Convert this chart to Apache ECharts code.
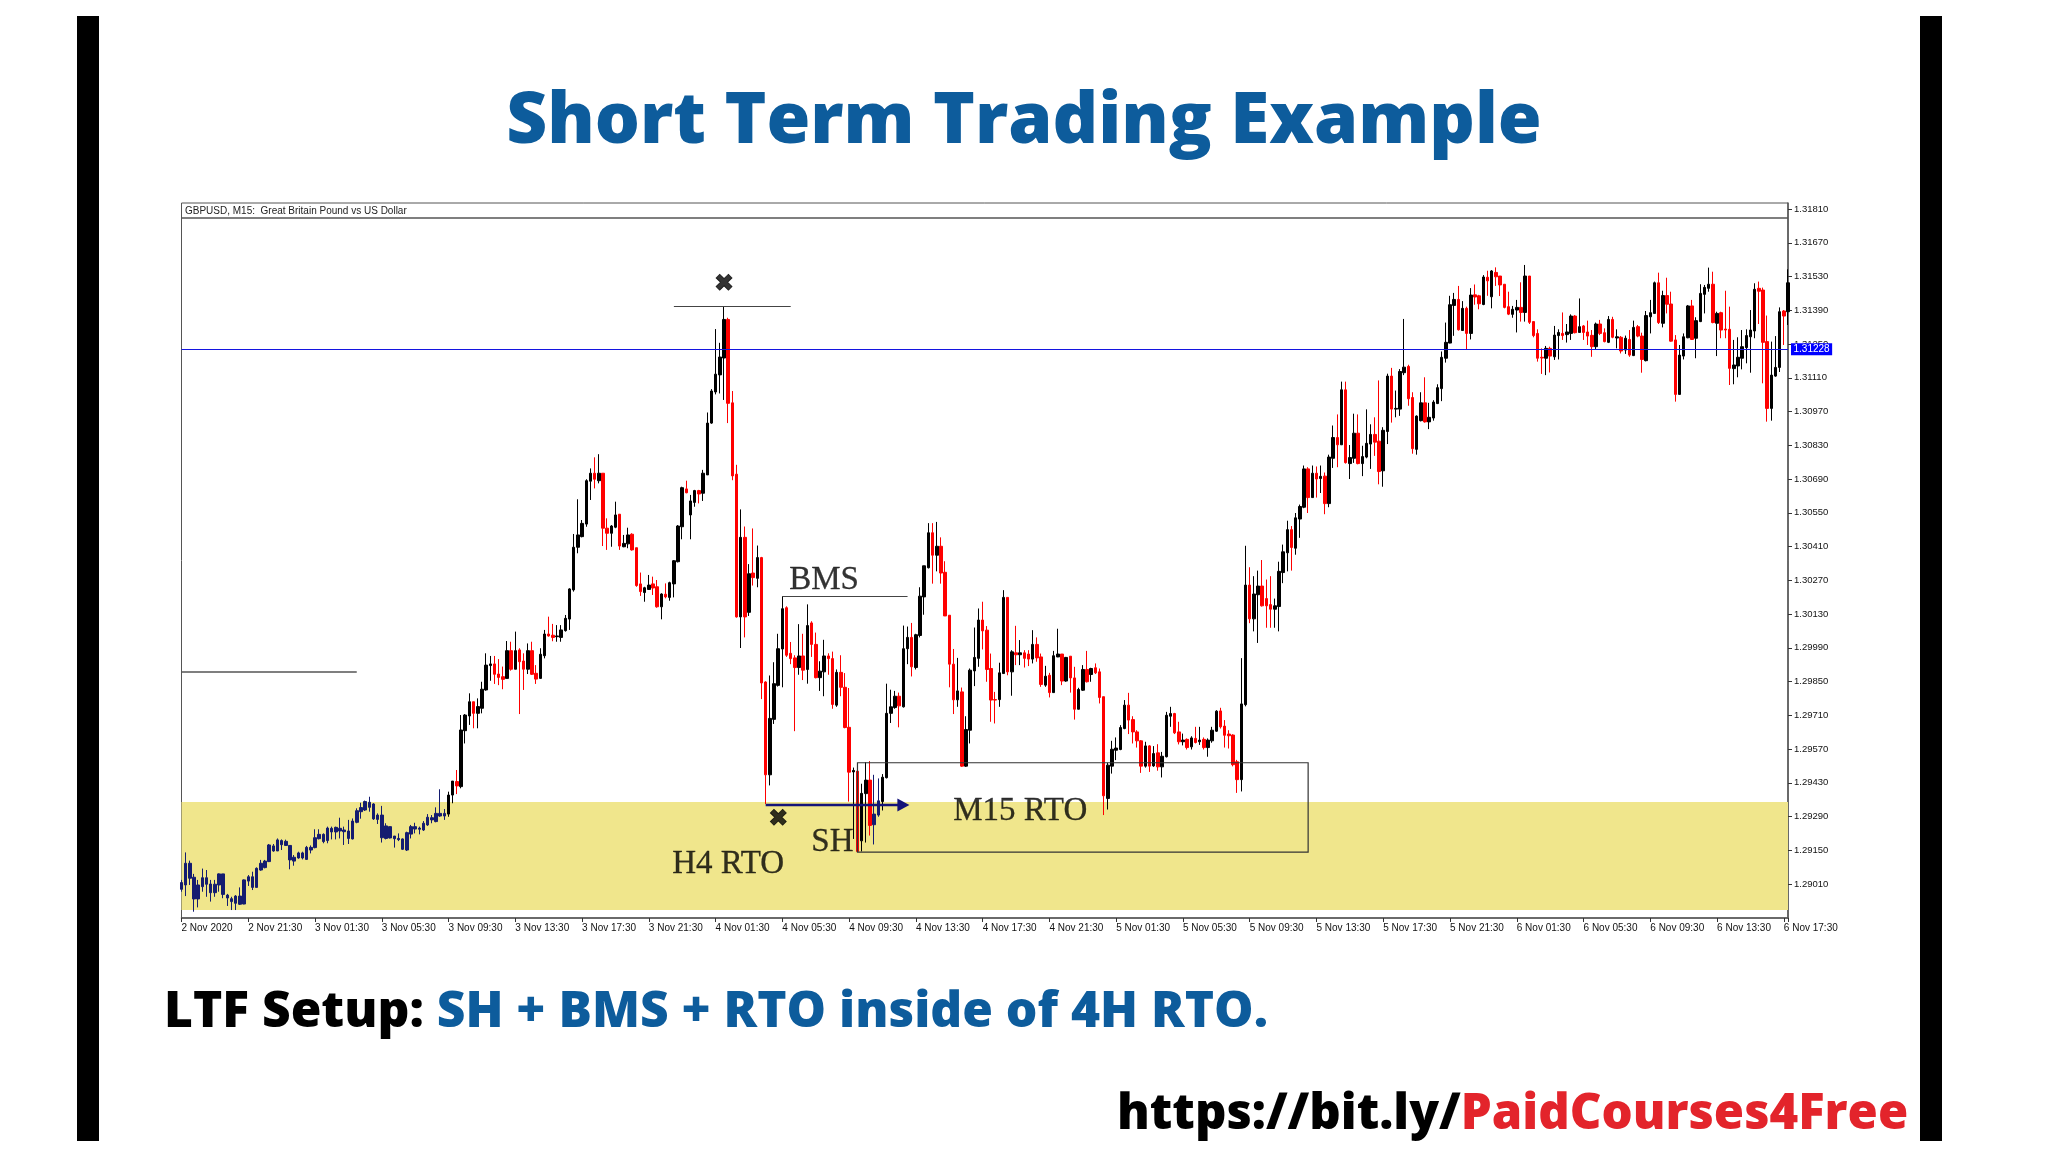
<!DOCTYPE html>
<html><head><meta charset="utf-8">
<script src="https://cdn.jsdelivr.net/npm/echarts@6/dist/echarts.min.js"></script>
<style>html,body{margin:0;padding:0;background:#fff}#c{width:2048px;height:1152px}</style>
</head><body><div id="c"></div>
<script>
const tickLabels=["2 Nov 2020","2 Nov 21:30","3 Nov 01:30","3 Nov 05:30","3 Nov 09:30","3 Nov 13:30","3 Nov 17:30","3 Nov 21:30","4 Nov 01:30","4 Nov 05:30","4 Nov 09:30","4 Nov 13:30","4 Nov 17:30","4 Nov 21:30","5 Nov 01:30","5 Nov 05:30","5 Nov 09:30","5 Nov 13:30","5 Nov 17:30","5 Nov 21:30","6 Nov 01:30","6 Nov 05:30","6 Nov 09:30","6 Nov 13:30","6 Nov 17:30"];
const priceTicks=[1.2901,1.2915,1.2929,1.2943,1.2957,1.2971,1.2985,1.2999,1.3013,1.3027,1.3041,1.3055,1.3069,1.3083,1.3097,1.3111,1.3125,1.3139,1.3153,1.3167,1.3181];
const opens=[
129016,129006,129096,129038,128948,128999,129036,129010,128974,129006,
129052,128964,128949,128930,128960,128927,129022,129040,128996,129068,
129078,129103,129168,129147,129190,129170,129170,129105,129118,129139,
129112,129151,129161,129198,129216,129190,129241,129226,129241,129234,
129230,129197,129266,129310,129317,129349,129342,129278,129296,129199,
129248,129209,129199,129197,129151,129217,129248,129242,129234,129255,
129285,129269,129303,129292,129300,129379,129435,129414,129646,129707,
129766,129718,129739,129815,129916,129923,129881,129870,129863,129978,
129901,129981,129935,129901,129978,129884,129863,129957,130047,130042,
130036,130033,130061,130109,130230,130407,130451,130503,130681,130714,
130683,130714,130486,130465,130490,130544,130409,130421,130461,130405,
130255,130219,130232,130255,130243,130160,130212,130199,130255,130347,
130492,130649,130541,130593,130642,130631,130707,130922,131051,131122,
131192,131352,131006,130710,130118,130448,130137,130300,130278,130364,
129848,129463,129693,129834,129985,130156,129967,129948,129908,129956,
129900,130093,130004,129866,129890,129956,129945,129752,129888,129826,
129660,129475,129478,129189,129385,129441,129256,129296,129352,129451,
129718,129742,129789,129745,129986,130033,129908,130041,130201,130322,
130467,130374,130411,130303,130125,129922,129774,129807,129499,129648,
129894,129946,130105,130063,129904,129775,129775,129883,130199,129890,
129969,129961,129969,129964,129943,130004,129952,129835,129876,129804,
129952,129964,129852,129955,129865,129735,129814,129900,129879,129907,
129890,129787,129365,129499,129565,129568,129655,129752,129692,129641,
129604,129499,129583,129500,129554,129496,129538,129706,129717,129641,
129600,129610,129579,129614,129600,129610,129576,129604,129644,129728,
129665,129632,129628,129517,129443,129754,130250,130110,130210,130246,
130194,130169,130150,130161,130302,130384,130480,130403,130524,130573,
130732,130613,130714,130692,130702,130588,130776,130862,130832,131060,
130754,130776,130880,130754,130781,130835,130875,130847,130724,130887,
131117,130980,130980,131131,131157,131028,130813,130932,131006,130927,
130943,131003,131065,131191,131254,131410,131435,131306,131398,131294,
131454,131450,131414,131527,131446,131547,131532,131498,131405,131373,
131391,131402,131381,131532,131343,131294,131195,131191,131232,131197,
131285,131294,131289,131294,131366,131298,131325,131300,131286,131239,
131333,131297,131257,131352,131275,131278,131225,131269,131202,131322,
131283,131181,131363,131377,131504,131336,131451,131416,131267,131041,
131200,131276,131408,131274,131343,131456,131481,131498,131336,131380,
131312,131311,131148,131159,131191,131235,131280,131304,131481,131474,
131260,130983,131117,131153,131387,131384];
const closes=[
128988,129096,129034,128948,129006,129036,129009,128974,129009,129052,
128967,128952,128937,128960,128926,129027,129040,128996,129075,129096,
129105,129172,129147,129193,129173,129187,129110,129121,129139,129118,
129162,129162,129202,129216,129186,129242,129226,129245,129230,129227,
129199,129271,129314,129327,129352,129328,129280,129296,129202,129251,
129201,129198,129194,129154,129223,129248,129238,129237,129262,129287,
129276,129303,129292,129303,129379,129437,129417,129649,129711,129766,
129718,129746,129818,129918,129923,129880,129867,129859,129978,129901,
129978,129932,129901,129978,129880,129860,129963,130047,130039,130033,
130039,130064,130112,130234,130407,130458,130506,130683,130714,130689,
130714,130486,130465,130495,130541,130412,130423,130458,130396,130248,
130223,130239,130250,130238,130160,130213,130201,130260,130351,130495,
130654,130633,130599,130642,130628,130714,130922,131055,131125,131196,
131352,131004,130703,130118,130448,130118,130297,130281,130364,129844,
129463,129697,129841,129986,130152,129959,129945,129908,129956,129897,
130082,130004,129866,129893,129956,129945,129755,129888,129826,129659,
129474,129481,129145,129386,129441,129253,129300,129355,129453,129718,
129745,129789,129749,129986,130033,129911,130044,130204,130330,130467,
130374,130411,130300,130122,129922,129774,129811,129499,129651,129897,
129950,130105,130060,129900,129773,129773,129886,130199,129890,129973,
129961,129969,129946,129943,130004,129948,129838,129872,129804,129957,
129964,129852,129950,129865,129735,129817,129900,129849,129904,129886,
129784,129376,129503,129569,129574,129659,129752,129690,129641,129604,
129499,129583,129499,129551,129496,129540,129710,129717,129637,129600,
129607,129576,129616,129597,129607,129576,129607,129648,129727,129662,
129627,129625,129505,129443,129757,130250,130110,130213,130246,130164,
130164,130150,130164,130307,130388,130480,130406,130529,130576,130732,
130613,130714,130690,130701,130588,130781,130862,130832,131060,130758,
130779,130880,130754,130783,130838,130875,130843,130721,130892,131117,
130980,130983,131136,131154,131023,130816,130951,131006,130927,130946,
131009,131069,131195,131257,131413,131435,131309,131398,131294,131453,
131445,131417,131528,131512,131553,131529,131495,131402,131374,131394,
131402,131381,131532,131340,131285,131191,131192,131232,131200,131287,
131298,131285,131300,131366,131297,131322,131298,131283,131239,131333,
131294,131260,131352,131278,131280,131221,131274,131204,131319,131283,
131186,131368,131380,131504,131339,131451,131415,131262,131041,131204,
131280,131408,131269,131347,131460,131485,131498,131339,131377,131308,
131308,131149,131163,131195,131239,131285,131308,131477,131469,131257,
130983,131121,131153,131384,131366,131504];
const lows=[
128978,128960,129006,128895,128913,128978,128957,128937,128957,128978,
128951,128919,128902,128902,128923,128926,129002,128985,128996,129065,
129075,129101,129144,129147,129151,129168,129071,129086,129115,129112,
129110,129137,129158,129195,129179,129179,129195,129195,129199,129172,
129176,129195,129262,129281,129313,129310,129276,129259,129182,129195,
129199,129161,129188,129151,129147,129199,129220,129216,129230,129251,
129262,129266,129289,129276,129289,129345,129383,129407,129593,129670,
129656,129656,129718,129812,129853,129840,129835,129818,129862,129895,
129901,129715,129815,129881,129877,129840,129862,129946,130036,130017,
130015,130015,130057,130064,130223,130382,130448,130492,130603,130651,
130672,130412,130396,130409,130486,130396,130407,130403,130393,130243,
130205,130181,130230,130209,130156,130108,130195,130185,130199,130344,
130440,130631,130440,130575,130589,130599,130707,130919,131041,131045,
131018,130922,130685,130115,129989,130033,130122,130248,130241,129777,
129342,129419,129674,129829,129826,129952,129922,129644,129878,129856,
129841,129952,129863,129811,129789,129878,129737,129745,129789,129656,
129352,129197,129145,129145,129182,129211,129174,129289,129315,129448,
129678,129737,129660,129742,129922,129871,129900,130033,130127,130319,
130256,130307,130256,130122,129826,129715,129745,129496,129496,129593,
129831,129911,129983,129849,129683,129676,129745,129883,129876,129791,
129918,129918,129908,129914,129925,129932,129828,129828,129784,129803,
129951,129835,129849,129804,129692,129734,129811,129846,129849,129881,
129759,129296,129319,129468,129524,129565,129652,129632,129593,129576,
129471,129493,129475,129496,129480,129452,129535,129662,129632,129589,
129585,129568,129568,129593,129587,129568,129538,129596,129641,129655,
129576,129572,129498,129388,129394,129747,130092,130058,130010,130161,
130073,130073,130073,130058,130258,130307,130310,130376,130446,130569,
130549,130613,130613,130632,130544,130573,130736,130739,130831,130754,
130690,130757,130751,130702,130776,130732,130786,130668,130658,130835,
130924,130946,130952,131121,130994,130795,130791,130929,130924,130897,
130932,131001,131013,131173,131253,131284,131306,131305,131228,131269,
131413,131394,131411,131450,131398,131491,131449,131398,131370,131359,
131298,131343,131343,131333,131278,131177,131126,131121,131132,131184,
131186,131267,131256,131267,131294,131297,131267,131246,131197,131228,
131287,131257,131254,131274,131232,131211,131209,131197,131200,131278,
131131,131178,131294,131377,131333,131319,131377,131260,131011,131040,
131186,131274,131267,131191,131341,131377,131467,131336,131200,131274,
131274,131080,131083,131112,131145,131170,131131,131274,131333,131087,
130928,130932,131114,131134,131246,131329];
const highs=[
129027,129141,129107,129052,129027,129074,129068,129027,129027,129054,
129052,128969,128957,128964,128996,129029,129047,129061,129079,129110,
129110,129176,129176,129199,129195,129194,129170,129130,129144,129144,
129168,129170,129237,129237,129220,129248,129248,129248,129285,129248,
129276,129282,129324,129347,129356,129372,129345,129303,129334,129262,
129248,129209,129220,129199,129227,129255,129264,129248,129271,129300,
129296,129328,129403,129321,129393,129437,129483,129711,129715,129801,
129766,129780,129849,129967,129956,129956,129943,129912,130018,130015,
130057,129988,129967,130008,130015,129918,129988,130064,130119,130089,
130084,130084,130126,130237,130462,130606,130520,130689,130734,130780,
130793,130714,130527,130499,130596,130544,130458,130488,130465,130405,
130302,130243,130292,130285,130271,130216,130257,130264,130354,130499,
130658,130683,130624,130645,130645,130728,130966,131063,131312,131255,
131406,131359,131055,130749,130564,130493,130337,130485,130414,130367,
129851,129875,129930,130048,130204,130162,130014,129959,130088,130048,
130170,130100,130053,129934,130023,129967,129974,129900,129959,129885,
129823,129493,129485,129426,129515,129520,129463,129448,129466,129841,
129816,129811,129804,130082,130078,130093,130048,130241,130330,130507,
130507,130512,130448,130349,130125,129985,129948,129825,129706,129904,
130074,130153,130181,130080,129966,129807,129928,130229,130199,129980,
130081,130022,129980,129980,130063,130033,129966,129915,129886,129977,
130069,129964,129952,129955,129911,129824,129918,129977,129907,129925,
129904,129787,129513,129604,129618,129669,129773,129803,129706,129648,
129607,129600,129586,129582,129590,129558,129724,129745,129720,129683,
129634,129614,129623,129662,129662,129618,129614,129662,129731,129741,
129690,129648,129631,129525,129947,130413,130324,130287,130310,130354,
130273,130287,130194,130347,130418,130517,130495,130549,130584,130746,
130739,130746,130742,130746,130717,130791,130912,130958,131094,131094,
130831,130961,130958,130828,130979,130917,130946,131099,130905,131127,
131151,131057,131146,131354,131164,131050,130954,131050,131112,131006,
131017,131083,131219,131339,131450,131462,131491,131428,131405,131482,
131497,131454,131536,131554,131557,131568,131532,131498,131467,131408,
131433,131506,131578,131532,131343,131311,131232,131242,131239,131325,
131311,131381,131333,131373,131370,131439,131329,131347,131308,131339,
131350,131315,131366,131363,131311,131283,131285,131308,131347,131329,
131297,131387,131433,131509,131546,131471,131525,131467,131287,131246,
131294,131412,131433,131361,131498,131495,131567,131550,131384,131384,
131471,131405,131267,131278,131308,131311,131391,131502,131509,131484,
131368,131260,131283,131402,131391,131560];
// prices above are in 1/100000 of a dollar (MT5 points)
const POINT=1e-5;
const currentPrice=1.31228;
const zoneTop=1.29350, zoneBottom=1.28902;
const boxTop=1.29513, boxBottom=1.29142, boxFrom=162, boxTo=270;
const swingHighPrice=1.31405, swingHighFrom=118, swingHighTo=146;
const bmsPrice=1.30202, bmsFrom=144, bmsTo=174;
const leftLinePrice=1.29891, leftLineFrom=0, leftLineTo=42;
const h4Price=1.29338, h4From=140, h4To=173;
const annotationText=["BMS","H4 RTO","SH","M15 RTO"];
const annotationIndex=[154,131,156,201];
const annotationPrice=[1.30269,1.29091,1.29183,1.29311];
const crossIndex=[130,143];
const crossPrice=[1.31496,1.29275];

const BLACK='#000',RED='#f00',NAVY='#141c70',PINK='#e8256a';
const categories=opens.map((_,i)=>i%16===0?tickLabels[i/16]:'');
const candleData=opens.map((o,i)=>{
  const c=closes[i],top=Math.max(o,c)*POINT;
  const inZone=top<=zoneTop+0.0001;
  const item={value:[o*POINT,c*POINT,lows[i]*POINT,highs[i]*POINT]};
  if(inZone)item.itemStyle={color:NAVY,borderColor:NAVY,color0:PINK,borderColor0:PINK};
  return item;
});
const GL=181.5,GT=203,GW=1606.5,GH=715;
const sans='"Open Sans"';
const chart=echarts.init(document.getElementById('c'),null,{renderer:'canvas'});
chart.setOption({
  animation:false,backgroundColor:'#fff',
  title:[
    {text:'Short Term Trading Example',left:'center',top:87.5,padding:0,textStyle:{fontFamily:sans,fontWeight:800,fontSize:71,color:'#0d5c9c'}},
    {text:'GBPUSD, M15:  Great Britain Pound vs US Dollar',left:185,top:206.5,padding:0,textStyle:{fontFamily:'"Liberation Sans"',fontWeight:'normal',fontSize:10,color:'#222'}},
    {text:'{a|LTF Setup: }{b|SH + BMS + RTO inside of 4H RTO.}',left:164,top:988,padding:0,textStyle:{rich:{a:{fontFamily:sans,fontWeight:800,fontSize:49.7,color:'#000'},b:{fontFamily:sans,fontWeight:800,fontSize:49.7,color:'#0d5c9c'}}}},
    {text:'{a|https://bit.ly/}{b|PaidCourses4Free}',left:1117,top:1091,padding:0,textStyle:{rich:{a:{fontFamily:sans,fontWeight:800,fontSize:49,color:'#000'},b:{fontFamily:sans,fontWeight:800,fontSize:49,color:'#e3242b'}}}}
  ],
  graphic:[
    {type:'rect',shape:{x:77,y:16,width:22,height:1125},style:{fill:'#000'},silent:true},
    {type:'rect',shape:{x:1920,y:16,width:22,height:1125},style:{fill:'#000'},silent:true},
    {type:'line',shape:{x1:GL,y1:218,x2:GL+GW,y2:218},style:{stroke:'#555',lineWidth:1.5},silent:true}
  ],
  grid:{left:GL,top:GT,width:GW,height:GH,show:true,borderColor:'#555',borderWidth:1,backgroundColor:'transparent'},
  xAxis:{type:'category',data:categories,boundaryGap:false,
    axisLine:{lineStyle:{color:'#555',width:1.5}},
    axisTick:{interval:15,length:4,lineStyle:{color:'#333'}},
    axisLabel:{interval:15,align:'left',margin:5,fontFamily:'"Liberation Sans"',fontSize:10,color:'#111',hideOverlap:false,showMinLabel:true,showMaxLabel:true},
    splitLine:{show:false}},
  yAxis:{type:'value',position:'right',min:1.28869,max:1.31835,scale:true,
    axisLine:{show:true,lineStyle:{color:'#555',width:1.5}},
    axisTick:{show:true,length:4,customValues:priceTicks,lineStyle:{color:'#333'}},
    axisLabel:{customValues:priceTicks,margin:6,fontFamily:'"Liberation Sans"',fontSize:9.5,color:'#111',formatter:v=>v.toFixed(5)},
    splitLine:{show:false}},
  series:[
    {type:'candlestick',name:'GBPUSD',data:candleData,barWidth:3,z:2,silent:true,clip:true,
      itemStyle:{color:BLACK,color0:RED,borderColor:BLACK,borderColor0:RED,borderWidth:1},
      markArea:{silent:true,z:1,label:{show:false},itemStyle:{color:'#f0e68c'},
        data:[[{coord:[0,zoneTop]},{coord:[categories.length-1,zoneBottom]}]]}},
    {type:'line',data:[],z:6,silent:true,
      markArea:{silent:true,z:6,label:{show:false},itemStyle:{color:'rgba(0,0,0,0)',borderColor:'#333',borderWidth:1.2},
        data:[[{coord:[boxFrom,boxTop]},{coord:[boxTo,boxBottom]}]]},
      markLine:{silent:true,z:10,symbol:['none','none'],label:{show:false},animation:false,
        data:[
          [{coord:[0,currentPrice],lineStyle:{color:'#1414e0',width:1.2,type:'solid'},
            label:{show:true,position:'end',distance:3,formatter:currentPrice.toFixed(5),backgroundColor:'#0000ff',color:'#fff',padding:[1,2.5],fontFamily:'"Liberation Sans"',fontSize:10}},
           {coord:[categories.length-1,currentPrice]}],
          [{coord:[leftLineFrom,leftLinePrice],lineStyle:{color:'#555',width:1.5,type:'solid'}},{coord:[leftLineTo,leftLinePrice]}],
          [{coord:[swingHighFrom,swingHighPrice],lineStyle:{color:'#444',width:1.2,type:'solid'}},{coord:[swingHighTo,swingHighPrice]}],
          [{coord:[bmsFrom,bmsPrice],lineStyle:{color:'#444',width:1.2,type:'solid'}},{coord:[bmsTo,bmsPrice]}],
          [{coord:[h4From,h4Price],symbol:'none',lineStyle:{color:'#14147a',width:2.4,type:'solid'}},{coord:[h4To,h4Price],symbol:'triangle',symbolSize:[13,12],symbolRotate:-90}]
        ]}},
    {type:'scatter',z:12,silent:true,symbolSize:0,
      data:annotationText.map((t,i)=>({name:t,value:[annotationIndex[i],annotationPrice[i]]})),
      label:{show:true,position:'inside',formatter:p=>p.name,fontFamily:'"Liberation Serif"',fontSize:33,color:'#000',textBorderColor:'#000',textBorderWidth:0.3}},
    {type:'scatter',z:12,silent:true,symbolSize:0,
      data:crossIndex.map((x,i)=>[x,crossPrice[i]]),
      label:{show:true,position:'inside',formatter:'\u2716',fontFamily:'"DejaVu Sans"',fontSize:24,color:'#000',textBorderColor:'#000',textBorderWidth:0.8}}
  ]
});
</script></body></html>
